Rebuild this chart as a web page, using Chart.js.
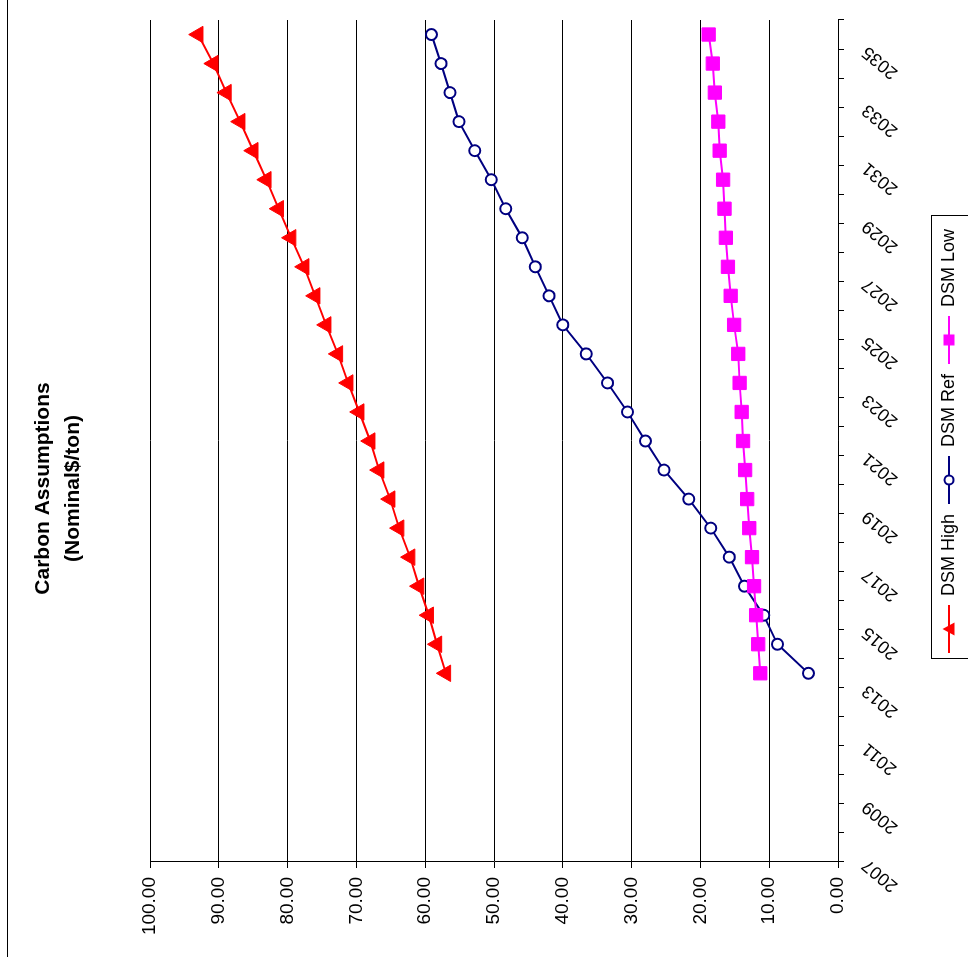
<!DOCTYPE html>
<html>
<head>
<meta charset="utf-8">
<title>Carbon Assumptions</title>
<script src="https://cdn.jsdelivr.net/npm/chart.js@4.4.1/dist/chart.umd.min.js"></script>
<style>
  html, body { margin: 0; padding: 0; background: #fff; overflow: hidden; }
  /* the chart is drawn upright and then turned a quarter turn to the left */
  #wrap {
    position: absolute; left: 0; top: 0;
    width: 957px; height: 968px;
    transform-origin: 0 0;
    transform: translateY(957px) rotate(-90deg);
  }
  canvas { display: block; }
</style>
</head>
<body>
<div id="wrap"><canvas id="carbonChart" width="957" height="968"></canvas></div>
<script>
// Category axis: one slot per year, every other year labelled
const years = ['2007', '2008', '2009', '2010', '2011', '2012', '2013', '2014', '2015', '2016',
  '2017', '2018', '2019', '2020', '2021', '2022', '2023', '2024', '2025', '2026',
  '2027', '2028', '2029', '2030', '2031', '2032', '2033', '2034', '2035'];
const seriesStart = '2013';

// Nominal $/ton, 2013 -> 2035
const dsmHigh = [57.0, 58.3, 59.5, 60.9, 62.2, 63.8, 65.1, 66.7, 68.0, 69.6, 71.2, 72.7,
  74.4, 76.0, 77.6, 79.5, 81.3, 83.1, 85.0, 86.9, 88.9, 90.8, 93.0];
const dsmRef = [4.3, 8.8, 10.8, 13.6, 15.8, 18.5, 21.7, 25.3, 28.0, 30.6, 33.5, 36.6,
  40.0, 42.0, 44.0, 45.9, 48.3, 50.4, 52.8, 55.1, 56.4, 57.7, 59.1];
const dsmLow = [11.3, 11.6, 11.9, 12.2, 12.5, 12.9, 13.2, 13.5, 13.8, 14.0, 14.3, 14.5,
  15.1, 15.6, 16.0, 16.3, 16.5, 16.7, 17.2, 17.4, 17.9, 18.2, 18.8];

const valueTicks = [0, 10, 20, 30, 40, 50, 60, 70, 80, 90, 100];

const RED = '#FF0000';
const NAVY = '#000080';
const MAGENTA = '#FF00FF';

Chart.defaults.font.family = "'Liberation Sans', Arial, sans-serif";
Chart.defaults.color = '#000';

function toPoints(values) {
  const first = years.indexOf(seriesStart);
  return values.map((v, i) => ({ x: years[first + i], y: v }));
}

// Legend swatch: short line with the marker in the middle (Excel style)
function legendSwatch(color, drawMarker) {
  const c = document.createElement('canvas');
  c.width = 48;
  c.height = 20;
  const g = c.getContext('2d');
  g.strokeStyle = color;
  g.lineWidth = 2;
  g.beginPath();
  g.moveTo(0, 10);
  g.lineTo(48, 10);
  g.stroke();
  drawMarker(g);
  return c;
}

const swatches = [
  legendSwatch(RED, g => {
    g.fillStyle = RED;
    g.beginPath();
    g.moveTo(24, 3.5);
    g.lineTo(30.5, 15.5);
    g.lineTo(17.5, 15.5);
    g.closePath();
    g.fill();
  }),
  legendSwatch(NAVY, g => {
    g.fillStyle = '#fff';
    g.lineWidth = 2;
    g.beginPath();
    g.arc(24, 10, 4.5, 0, Math.PI * 2);
    g.fill();
    g.stroke();
  }),
  legendSwatch(MAGENTA, g => {
    g.fillStyle = MAGENTA;
    g.fillRect(18.5, 4.5, 11, 11);
  })
];

// chart border (only its top edge falls inside the picture) and legend box
const frame = {
  id: 'frame',
  afterDraw(chart) {
    const { ctx, width, height } = chart;
    ctx.save();
    ctx.strokeStyle = '#000';
    ctx.lineWidth = 1;
    ctx.strokeRect(-5, 7.5, width + 10, height + 10);
    const boxes = chart.legend.legendHitBoxes;
    if (boxes && boxes.length) {
      const first = boxes[0];
      const last = boxes[boxes.length - 1];
      const left = Math.round(first.left) - 5.5;
      const right = Math.round(last.left + last.width) + 13.5;
      const top = Math.round(first.top) - 8.5;
      ctx.strokeRect(left, top, right - left, height - top + 10);
    }
    ctx.restore();
  }
};

new Chart(document.getElementById('carbonChart'), {
  type: 'line',
  data: {
    labels: years,
    datasets: [
      {
        label: 'DSM High',
        data: toPoints(dsmHigh),
        borderColor: RED,
        borderWidth: 2,
        pointStyle: 'triangle',
        pointRadius: 9.5,
        pointBackgroundColor: RED,
        pointBorderColor: RED,
        pointBorderWidth: 1,
        order: 2
      },
      {
        label: 'DSM Ref',
        data: toPoints(dsmRef),
        borderColor: NAVY,
        borderWidth: 2,
        pointStyle: 'circle',
        pointRadius: 5.5,
        pointBackgroundColor: '#fff',
        pointBorderColor: NAVY,
        pointBorderWidth: 2,
        order: 1
      },
      {
        label: 'DSM Low',
        data: toPoints(dsmLow),
        borderColor: MAGENTA,
        borderWidth: 2,
        pointStyle: 'rect',
        pointRadius: 9.4,
        pointBackgroundColor: MAGENTA,
        pointBorderColor: MAGENTA,
        pointBorderWidth: 1,
        order: 0
      }
    ]
  },
  options: {
    responsive: false,
    animation: false,
    events: [],
    layout: { padding: { left: 0, right: 20, top: 0, bottom: 0 } },
    plugins: {
      title: {
        display: true,
        text: ['Carbon Assumptions', '(Nominal$/ton)'],
        color: '#000',
        font: { size: 21, weight: 'bold', lineHeight: 1.43 },
        padding: { top: 28, bottom: 62 }
      },
      legend: {
        position: 'bottom',
        fullSize: false,
        labels: {
          usePointStyle: true,
          pointStyleWidth: 48,
          padding: 10,
          color: '#000',
          font: { size: 18 },
          sort: (a, b) => a.datasetIndex - b.datasetIndex,
          generateLabels(chart) {
            const items = Chart.defaults.plugins.legend.labels.generateLabels(chart);
            return items.map(item => ({ ...item, pointStyle: swatches[item.datasetIndex] }));
          }
        }
      },
      tooltip: { enabled: false }
    },
    scales: {
      x: {
        type: 'category',
        offset: true,
        grid: {
          offset: true,
          drawOnChartArea: false,
          color: '#000',
          tickLength: 6
        },
        border: { color: '#000', width: 1 },
        ticks: {
          autoSkip: false,
          minRotation: 50,
          maxRotation: 50,
          padding: 14,
          labelOffset: -15,
          color: '#000',
          font: { size: 18 },
          callback: function (value, index) {
            return index % 2 === 0 ? this.getLabelForValue(value) : '';
          }
        },
        afterFit: scale => { scale.height = 92; }
      },
      y: {
        min: 0,
        max: 100,
        grid: { color: '#000', tickLength: 6 },
        border: { color: '#000', width: 1 },
        ticks: {
          padding: 9,
          color: '#000',
          font: { size: 19 },
          callback: value => Number(value).toFixed(2)
        },
        afterBuildTicks: scale => {
          scale.ticks = valueTicks.map(v => ({ value: v }));
        },
        afterFit: scale => { scale.width = 95; }
      }
    }
  },
  plugins: [frame]
});
</script>
</body>
</html>
